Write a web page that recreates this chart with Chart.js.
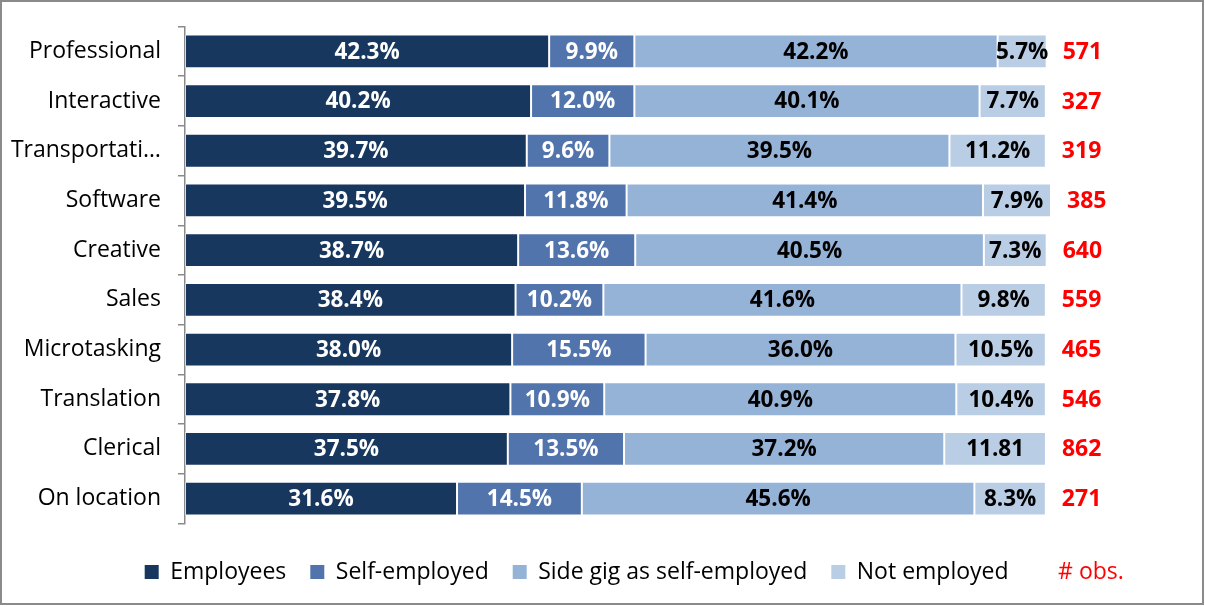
<!DOCTYPE html>
<html><head><meta charset="utf-8">
<script src="https://cdn.jsdelivr.net/npm/chart.js@4.4.1/dist/chart.umd.min.js"></script>
<style>
html,body{margin:0;padding:0;background:#fff;}
#wrap{position:absolute;left:0;top:0;width:1200px;height:601px;border:2px solid #8a8a8a;background:#fff;}
canvas{display:block;}
</style></head><body>
<div id="wrap"><canvas id="c" width="1200" height="601"></canvas></div>
<script>
const categories = ['Professional','Interactive','Transportati…','Software','Creative','Sales','Microtasking','Translation','Clerical','On location'];
const seriesNames = ['Employees','Self-employed','Side gig as self-employed','Not employed'];
const employees = [42.3,40.2,39.7,39.5,38.7,38.4,38.0,37.8,37.5,31.6];
const selfEmployed = [9.9,12.0,9.6,11.8,13.6,10.2,15.5,10.9,13.5,14.5];
const sideGig = [42.2,40.1,39.5,41.4,40.5,41.6,36.0,40.9,37.2,45.6];
const notEmployed = [5.7,7.7,11.2,7.9,7.3,9.8,10.5,10.4,11.81,8.3];
const obs = [571,327,319,385,640,559,465,546,862,271];
const obsLabel = '# obs.';

const colors = ['#17375E','#5274AC','#95B3D7','#B9CDE5'];
const valueColors = ['#ffffff','#ffffff','#000000','#000000'];
const FONT = '"Open Sans", "Liberation Sans", sans-serif';

function fmt(v){
  const t = v*10;
  if (Math.abs(t - Math.round(t)) < 1e-6) return v.toFixed(1) + '%';
  return String(v);
}

const labelPlugin = {
  id: 'barLabels',
  afterDatasetsDraw(chart){
    const ctx = chart.ctx;
    ctx.save();
    ctx.font = 'bold 22.5px ' + FONT;
    ctx.textAlign = 'center';
    ctx.textBaseline = 'middle';
    chart.data.datasets.forEach((ds, di) => {
      const meta = chart.getDatasetMeta(di);
      meta.data.forEach((bar, i) => {
        const p = bar.getProps(['x','y','base'], true);
        ctx.fillStyle = valueColors[di];
        ctx.fillText(fmt(ds.data[i]), (p.x + p.base)/2, p.y + 1);
      });
    });
    const last = chart.getDatasetMeta(chart.data.datasets.length - 1);
    ctx.font = 'bold 23px ' + FONT;
    ctx.textAlign = 'left';
    ctx.fillStyle = '#ff0000';
    last.data.forEach((bar, i) => {
      const p = bar.getProps(['x','y'], true);
      ctx.fillText(String(obs[i]), p.x + 16, p.y + 1);
    });
    ctx.restore();
  }
};

const seriesData = [employees, selfEmployed, sideGig, notEmployed];

new Chart(document.getElementById('c'), {
  type: 'bar',
  data: {
    labels: categories,
    datasets: seriesData.map((d, i) => ({
      label: seriesNames[i],
      data: d,
      backgroundColor: colors[i],
      borderColor: 'rgba(255,255,255,0.4)',
      borderWidth: 1,
      borderSkipped: false,
      categoryPercentage: 1,
      barPercentage: 0.68
    }))
  },
  options: {
    indexAxis: 'y',
    responsive: false,
    animation: false,
    events: [],
    layout: { padding: { left: 0, right: -64.5, top: 24.5, bottom: 9.5 } },
    scales: {
      x: {
        stacked: true, min: 0, max: 118.14,
        grid: { display: false }, border: { display: false },
        ticks: { display: false },
        afterFit(s){ s.height = 13; }
      },
      y: {
        stacked: true,
        grid: { display: true, drawOnChartArea: false, drawTicks: true, tickLength: 7, color: '#8a8a8a', offset: true, lineWidth: 1.5 },
        border: { display: true, color: '#8a8a8a', width: 1.5 },
        ticks: { color: '#000', font: { family: FONT, size: 23, lineHeight: 0.6 }, padding: 17, autoSkip: false },
        afterFit(s){ s.width = 183; }
      }
    },
    plugins: {
      tooltip: { enabled: false },
      legend: {
        position: 'bottom',
        align: 'center',
        labels: {
          boxWidth: 14, boxHeight: 14, padding: 24,
          color: '#000',
          font: { family: FONT, size: 23 },
          generateLabels(chart){
            const items = Chart.defaults.plugins.legend.labels.generateLabels(chart);
            items.forEach(it => { it.lineWidth = 0; it.strokeStyle = 'rgba(0,0,0,0)'; });
            items.push({ text: obsLabel, fillStyle: 'rgba(0,0,0,0)', strokeStyle: 'rgba(0,0,0,0)', lineWidth: 0, fontColor: '#ff0000', hidden: false });
            return items;
          }
        }
      }
    }
  },
  plugins: [labelPlugin]
});
</script>
</body></html>
